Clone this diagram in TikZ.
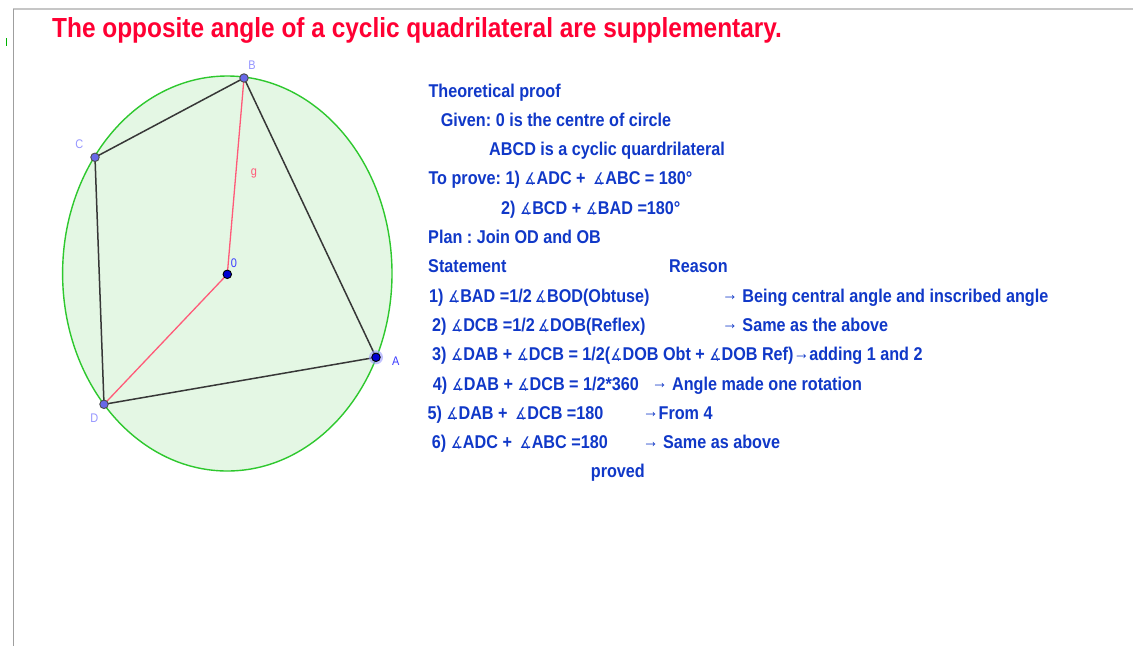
\documentclass[tikz,border=0pt]{standalone}
\usepackage{fontspec}
\setmainfont{Liberation Sans}[FakeStretch=0.875]
\newfontfamily\titlefont{Liberation Sans}[FakeStretch=0.885]
\newfontfamily\angfont{DejaVu Sans}[FakeStretch=0.85]
\newcommand\ag{{\angfont\mdseries\fontsize{16}{16}\selectfont ∡}}
\newcommand\ar{\raisebox{1.5pt}{\mdseries\fontsize{18}{18}\selectfont →}}
\frenchspacing
\definecolor{tblue}{RGB}{16,56,200}
\definecolor{tred}{RGB}{255,0,51}
\definecolor{cgreen}{RGB}{46,200,46}
\definecolor{cfill}{RGB}{228,247,228}
\definecolor{pblue}{RGB}{104,104,232}
\definecolor{dblue}{RGB}{0,0,210}
\definecolor{lblue}{RGB}{150,150,255}
\definecolor{ablue}{RGB}{60,60,255}
\definecolor{segred}{RGB}{255,90,120}
\definecolor{edge}{RGB}{55,55,55}
\begin{document}
\begin{tikzpicture}[x=1pt,y=-1pt,
  txt/.style={anchor=base west, inner sep=0, text=tblue, font=\bfseries\fontsize{18.5}{20}\selectfont},
  ptl/.style={circle, draw=black!70, line width=0.9, fill=pblue, inner sep=0, minimum size=8.5},
  ptd/.style={circle, draw=black, line width=0.9, fill=dblue, inner sep=0, minimum size=8.5},
  lab/.style={inner sep=0, font=\fontsize{12.5}{13}\selectfont},
  edgeline/.style={draw=edge, line width=1.5},
  radline/.style={draw=segred, line width=1.3}]
\useasboundingbox (0,0) rectangle (1133,646);
\fill[white] (0,0) rectangle (1133,646);
% frame
\draw[gray!45, line width=1.6] (13,9) -- (1133,9);
\draw[gray!75, line width=1] (13,9) -- (13,646);
\draw[green!70!black, line width=1.2] (6.5,38) -- (6.5,46);
% title
\node[anchor=base west, inner sep=0, text=tred, font=\titlefont\bfseries\fontsize{27.6}{30}\selectfont] (title) at (52,37)
  {The opposite angle of a cyclic quadrilateral are supplementary.};
% circle
\filldraw[draw=cgreen, fill=cfill, line width=1.4] (227.3,273.5) ellipse [x radius=164.7, y radius=197.5];
\coordinate (A) at (376,357.3);
\coordinate (B) at (244,78);
\coordinate (C) at (95,157.3);
\coordinate (D) at (104,404.3);
\coordinate (O) at (227.3,274.3);
\draw[edgeline] (A) -- (B) -- (C) -- (D) -- cycle;
\draw[radline] (B) -- (O) -- (D);
\fill[blue!40, opacity=0.6] (A) circle (7);
\node[ptd] (pA) at (A) {};
\node[ptd] (pO) at (O) {};
\node[ptl] (pB) at (B) {};
\node[ptl] (pC) at (C) {};
\node[ptl] (pD) at (D) {};
\node[lab, text=lblue] (lB) at (252,65) {B};
\node[lab, text=lblue] (lC) at (79.3,144) {C};
\node[lab, text=lblue] (lD) at (94.3,417.7) {D};
\node[lab, text=ablue] (lA) at (395.7,360.7) {A};
\node[lab, text=ablue] (lO) at (234,262.7) {0};
\node[lab, text=segred] (lg) at (254,173.3) {g};
% proof text
\node[txt] (t0) at (428.3,97) {Theoretical proof};
\node[txt] (t1) at (440.7,126.3) {Given: 0 is the centre of circle};
\node[txt] (t2) at (489,155.6) {ABCD is a cyclic quardrilateral};
\node[txt] (t3) at (428.3,184.9) {To prove: 1) \ag ADC + \,\ag ABC = 180°};
\node[txt] (t4) at (501,214.2) {2) \ag BCD + \ag BAD =180°};
\node[txt] (t5) at (428,243.5) {Plan : Join OD and OB};
\node[txt] (t6) at (428,272.8) {Statement};
\node[txt] (r6) at (669,272.8) {Reason};
\node[txt] (t7) at (429,302.1) {1) \ag BAD =1/2\,\ag BOD(Obtuse)};
\node[txt] (r7) at (722,302.1) {\ar\ Being central angle and inscribed angle};
\node[txt] (t8) at (432,331.4) {2) \ag DCB =1/2\,\ag DOB(Reflex)};
\node[txt] (r8) at (722,331.4) {\ar\ Same as the above};
\node[txt] (t9) at (432,360.7) {3) \ag DAB + \ag DCB = 1/2(\ag DOB Obt + \ag DOB Ref)\ar adding 1 and 2};
\node[txt] (t10) at (432.7,390) {4) \ag DAB + \ag DCB = 1/2*360};
\node[txt] (r10) at (651.7,390) {\ar\ Angle made one rotation};
\node[txt] (t11) at (427.3,419.3) {5) \ag DAB + \,\ag DCB =180};
\node[txt] (r11) at (642.7,419.3) {\ar From 4};
\node[txt] (t12) at (431.7,448.6) {6) \ag ADC + \,\ag ABC =180};
\node[txt] (r12) at (642.7,448.6) {\ar\ Same as above};
\node[txt] (t13) at (590.7,477.9) {proved};
\end{tikzpicture}
\end{document}
